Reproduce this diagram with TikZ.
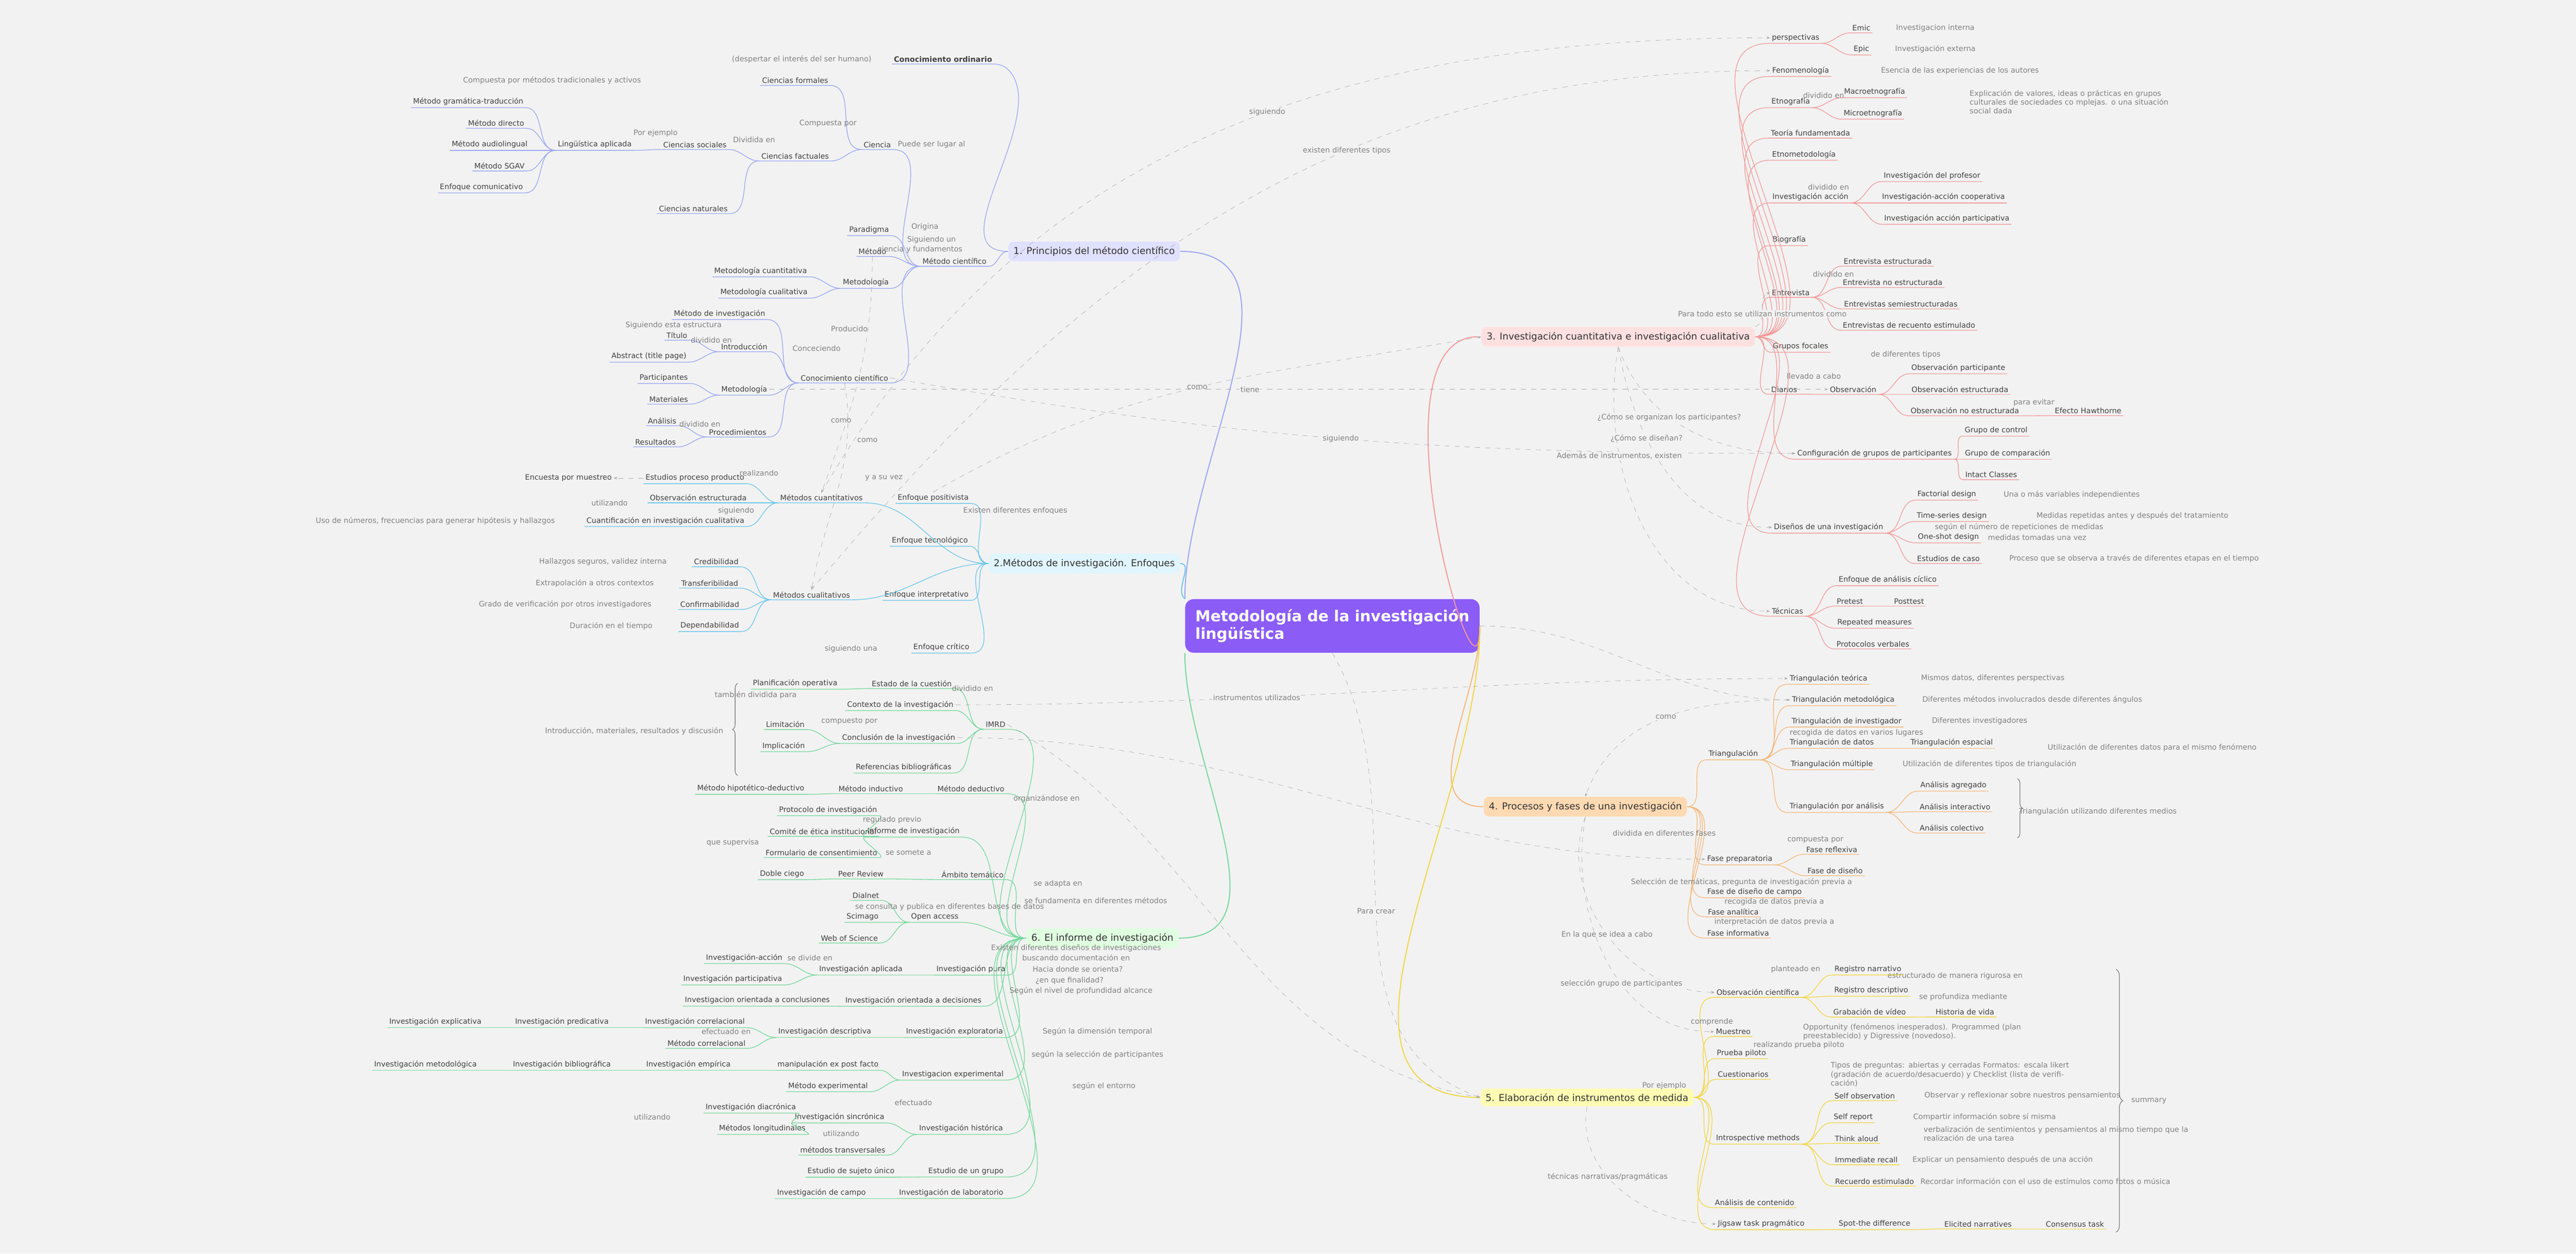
\documentclass[tikz,border=0pt]{standalone}
\usepackage{fontspec}
\setmainfont{DejaVu Sans}
\usetikzlibrary{positioning,arrows.meta,decorations.pathreplacing}

\definecolor{bgc}{HTML}{F2F2F2}
\definecolor{cblue}{HTML}{9AA6F2}
\definecolor{ccyan}{HTML}{6CC6EA}
\definecolor{cred}{HTML}{F29A9A}
\definecolor{corange}{HTML}{F5B77A}
\definecolor{cyellow}{HTML}{F2D640}
\definecolor{cgreen}{HTML}{74D89C}
\definecolor{cpurple}{HTML}{8B5CF6}

% children to the right / to the left, underlined
\newcommand{\kidsR}[3]{\foreach \k in {#3}{\draw[#1] (#2) to[out=0,in=180] (\k.south west) -- (\k.south east);}}
\newcommand{\kidsL}[3]{\foreach \k in {#3}{\draw[#1] (#2) to[out=180,in=0] (\k.south east) -- (\k.south west);}}

\begin{document}
\begin{tikzpicture}[
    x=0.0341cm, y=-0.0341cm,
    every node/.style={font=\fontsize{4.4}{5.2}\selectfont, inner sep=1pt},
    leaf/.style={text=black!75},
    note/.style={text=black!50, align=left},
    hub/.style={rounded corners=3pt, inner sep=3pt, font=\fontsize{5.6}{6.6}\selectfont, text=black!80},
    root/.style={rounded corners=5pt, fill=cpurple, text=white, font=\fontsize{9}{10.5}\selectfont\bfseries, align=left, minimum width=5.5cm, inner sep=6pt, minimum height=0.9cm},
    e1/.style={cblue, thin},
    e2/.style={ccyan, thin},
    e3/.style={cred, thin},
    e4/.style={corange, thin},
    e5/.style={cyellow, thin},
    e6/.style={cgreen, thin},
    xlink/.style={gray!70, dashed, very thin, -{Stealth[length=2pt]}},
    xlab/.style={text=black!50, fill=bgc, inner sep=0.5pt}
]
\fill[bgc] (0,0) rectangle (1568,763);

% ===================== ROOT AND HUBS =====================
\node[root] (c) at (811,381) {Metodología de la investigación\\lingüística\hspace*{2.1cm}};
\node[hub, fill=blue!12] (h1) at (666,153) {1. Principios del método científico};
\node[hub, fill=cyan!12] (h2) at (660,343) {2.Métodos de investigación. Enfoques};
\node[hub, fill=red!12] (h3) at (985,205) {3. Investigación cuantitativa e investigación cualitativa};
\node[hub, fill=orange!30] (h4) at (965,491) {4. Procesos y fases de una investigación};
\node[hub, fill=yellow!30] (h5) at (966,668) {5. Elaboración de instrumentos de medida};
\node[hub, fill=green!12] (h6) at (671,571) {6. El informe de investigación};

\draw[e1, semithick] (c.north west) to[out=90,in=0] (h1.east);
\draw[e2, semithick] (c.north west) to[out=140,in=0] (h2.east);
\draw[e6, semithick] (c.south west) to[out=-90,in=0] (h6.east);
\draw[e3, semithick] (c.east) to[out=-90,in=180] ([xshift=-2pt]h3.west);
\draw[e4, semithick] (c.east) to[out=-90,in=180] (h4.west);
\draw[e5, semithick] (c.east) to[out=-90,in=180] (h5.west);

% ===================== 1. PRINCIPIOS =====================
\node[leaf] (mc) at (581,159) {Método científico};
\node[leaf] (cord) at (574,36) {\textbf{Conocimiento ordinario}};
\node[note] (desp) at (488,36) {(despertar el interés del ser humano)};
\node[leaf] (par) at (529,140) {Paradigma};
\node[leaf] (met) at (531,153) {Método};
\node[leaf] (mtd) at (527,172) {Metodología};
\node[leaf] (cie) at (534,88) {Ciencia};
\node[leaf] (coci) at (514,230) {Conocimiento científico};
\node[leaf] (cfor) at (484,49) {Ciencias formales};
\node[leaf] (cfac) at (484,95) {Ciencias factuales};
\node[leaf] (csoc) at (423,88) {Ciencias sociales};
\node[leaf] (cnat) at (422,127) {Ciencias naturales};
\node[leaf] (lap) at (362,88) {Lingüística aplicada};
\node[leaf] (mgt) at (285,62) {Método gramática-traducción};
\node[leaf] (mdir) at (302,75) {Método directo};
\node[leaf] (maud) at (298,88) {Método audiolingual};
\node[leaf] (msg) at (304,101) {Método SGAV};
\node[leaf] (ecom) at (293,114) {Enfoque comunicativo};
\node[leaf] (mcua) at (463,165) {Metodología cuantitativa};
\node[leaf] (mcul) at (465,178) {Metodología cualitativa};
\node[leaf] (minv) at (438,191) {Método de investigación};
\node[leaf] (intr) at (453,211) {Introducción};
\node[leaf] (tit) at (412,204) {Título};
\node[leaf] (abs) at (395,217) {Abstract (title page)};
\node[leaf] (mtd2) at (453,237) {Metodología};
\node[leaf] (part) at (404,230) {Participantes};
\node[leaf] (mat) at (407,243) {Materiales};
\node[leaf] (proc) at (449,263) {Procedimientos};
\node[leaf] (anl) at (403,256) {Análisis};
\node[leaf] (res) at (399,269) {Resultados};

\kidsL{e1}{h1.west}{mc}
\draw[e1] (h1.west) to[out=180,in=-90] (620,60) to[out=90,in=0] (cord.south east) -- (cord.south west);
\kidsL{e1}{mc.south west}{par,met,mtd,cie,coci}
\kidsL{e1}{cie.south west}{cfor,cfac}
\kidsL{e1}{cfac.south west}{csoc,cnat}
\kidsL{e1}{csoc.south west}{lap}
\kidsL{e1}{lap.south west}{mgt,mdir,maud,msg,ecom}
\kidsL{e1}{mtd.south west}{mcua,mcul}
\kidsL{e1}{coci.south west}{minv,intr,mtd2,proc}
\kidsL{e1}{intr.south west}{tit,abs}
\kidsL{e1}{mtd2.south west}{part,mat}
\kidsL{e1}{proc.south west}{anl,res}

\node[note] at (336,49) {Compuesta por métodos tradicionales y activos};
\node[note] at (399,81) {Por ejemplo};
\node[note] at (459,85) {Dividida en};
\node[note] at (504,75) {Compuesta por};
\node[note] at (567,88) {Puede ser lugar al};
\node[note] at (563,138) {Origina};
\node[note] at (567,146) {Siguiendo un};
\node[note] at (560,152) {ciencia y fundamentos};
\node[note] at (517,200) {Producido};
\node[note] at (497,212) {Conceciendo};
\node[note] at (410,198) {Siguiendo esta estructura};
\node[note] at (433,207) {dividido en};
\node[note] at (426,258) {dividido en};
\node[note] at (512,256) {como};
\node[note] at (528,268) {como};

% ===================== 2. METODOS =====================
\node[leaf] (mcuant) at (500,303) {Métodos cuantitativos};
\node[leaf] (epp) at (423,291) {Estudios proceso producto};
\node[leaf] (oes) at (425,303) {Observación estructurada};
\node[leaf] (cic) at (405,317) {Cuantificación en investigación cualitativa};
\node[leaf] (enc) at (346,291) {Encuesta por muestreo};
\node[note] at (265,317) {Uso de números, frecuencias para generar hipótesis y hallazgos};
\node[leaf] (epos) at (568,303) {Enfoque positivista};
\node[leaf] (etec) at (566,329) {Enfoque tecnológico};
\node[leaf] (mcual) at (494,362) {Métodos cualitativos};
\node[leaf] (cred) at (436,342) {Credibilidad};
\node[leaf] (tran) at (432,355) {Transferibilidad};
\node[leaf] (conf) at (432,368) {Confirmabilidad};
\node[leaf] (depe) at (432,381) {Dependabilidad};
\node[note] at (367,342) {Hallazgos seguros, validez interna};
\node[note] at (362,355) {Extrapolación a otros contextos};
\node[note] at (344,368) {Grado de verificación por otros investigadores};
\node[note] at (372,381) {Duración en el tiempo};
\node[leaf] (eint) at (564,362) {Enfoque interpretativo};
\node[leaf] (ecri) at (573,394) {Enfoque crítico};

\kidsL{e2}{h2.west}{epos,etec,eint,ecri}
\draw[e2] (h2.west) to[out=180,in=0] (mcuant.south east) -- (mcuant.south west);
\draw[e2] (h2.west) to[out=180,in=0] (mcual.south east) -- (mcual.south west);
\kidsL{e2}{mcuant.south west}{epp,oes,cic}
\kidsL{e2}{mcual.south west}{cred,tran,conf,depe}
\draw[xlink] (epp.west) -- (enc.east);
\node[note] at (371,306) {utilizando};
\node[note] at (462,288) {realizando};
\node[note] at (448,311) {siguiendo};
\node[note] at (538,291) {y a su vez};
\node[note] at (618,311) {Existen diferentes enfoques};

% ===================== 6. INFORME =====================
\node[leaf] (imrd) at (606,441) {IMRD};
\node[leaf] (estc) at (555,416) {Estado de la cuestión};
\node[leaf] (plan) at (484,416) {Planificación operativa};
\node[leaf] (ctx) at (548,429) {Contexto de la investigación};
\node[leaf] (conc) at (547,449) {Conclusión de la investigación};
\node[leaf] (lim) at (478,441) {Limitación};
\node[leaf] (imp) at (477,454) {Implicación};
\node[leaf] (refb) at (550,467) {Referencias bibliográficas};
\node[note] (imrdn) at (386,445) {Introducción, materiales, resultados y discusión};
\draw[black!50, decorate, decoration={brace, amplitude=3pt}] (449,472) -- (449,416);
\node[leaf] (mhd) at (457,480) {Método hipotético-deductivo};
\node[leaf] (mind) at (530,480) {Método inductivo};
\node[leaf] (mded) at (591,480) {Método deductivo};
\node[leaf] (infi) at (556,506) {Informe de investigación};
\node[leaf] (prot) at (504,493) {Protocolo de investigación};
\node[leaf] (comi) at (501,506) {Comité de ética institucional};
\node[leaf] (form) at (500,519) {Formulario de consentimiento};
\node[note] at (446,513) {que supervisa};
\node[leaf] (amb) at (592,532) {Ámbito temático};
\node[leaf] (peer) at (524,532) {Peer Review};
\node[leaf] (dobl) at (476,532) {Doble ciego};
\node[leaf] (dial) at (527,545) {Dialnet};
\node[leaf] (oacc) at (569,558) {Open access};
\node[leaf] (scim) at (525,558) {Scimago};
\node[leaf] (wos) at (517,571) {Web of Science};
\node[leaf] (iapl) at (524,590) {Investigación aplicada};
\node[leaf] (iacc) at (453,583) {Investigación-acción};
\node[leaf] (ipar) at (446,596) {Investigación participativa};
\node[leaf] (ipur) at (591,590) {Investigación pura};
\node[leaf] (icon) at (461,609) {Investigacion orientada a conclusiones};
\node[leaf] (idec) at (556,609) {Investigación orientada a decisiones};
\node[leaf] (iexp) at (581,628) {Investigación exploratoria};
\node[leaf] (ides) at (502,628) {Investigación descriptiva};
\node[leaf] (icor) at (423,622) {Investigación correlacional};
\node[leaf] (mcor) at (430,635) {Método correlacional};
\node[leaf] (ipre) at (342,622) {Investigación predicativa};
\node[leaf] (iexl) at (265,622) {Investigación explicativa};
\node[leaf] (iexm) at (580,654) {Investigacion experimental};
\node[leaf] (mexp) at (504,648) {manipulación ex post facto};
\node[leaf] (mexe) at (504,661) {Método experimental};
\node[leaf] (iemp) at (419,648) {Investigación empírica};
\node[leaf] (ibib) at (342,648) {Investigación bibliográfica};
\node[leaf] (imet) at (259,648) {Investigación metodológica};
\node[leaf] (ihis) at (585,687) {Investigación histórica};
\node[leaf] (isin) at (511,680) {Investigación sincrónica};
\node[leaf] (idia) at (457,674) {Investigación diacrónica};
\node[leaf] (mlon) at (464,687) {Métodos longitudinales};
\node[leaf] (mtra) at (513,700) {métodos transversales};
\node[leaf] (egru) at (588,713) {Estudio de un grupo};
\node[leaf] (esuj) at (518,713) {Estudio de sujeto único};
\node[leaf] (icam) at (500,726) {Investigación de campo};
\node[leaf] (ilab) at (579,726) {Investigación de laboratorio};

\kidsL{e6}{h6.west}{imrd,mded,infi,amb,oacc,ipur,idec,iexp,iexm,ihis,egru,ilab}
\kidsL{e6}{imrd.south west}{estc,ctx,conc,refb}
\kidsL{e6}{estc.south west}{plan}
\kidsL{e6}{conc.south west}{lim,imp}
\kidsL{e6}{mded.south west}{mind}
\kidsL{e6}{mind.south west}{mhd}
\kidsL{e6}{infi.south west}{prot,comi,form}
\kidsL{e6}{amb.south west}{peer}
\kidsL{e6}{peer.south west}{dobl}
\kidsL{e6}{oacc.south west}{dial,scim,wos}
\kidsL{e6}{ipur.south west}{iapl}
\kidsL{e6}{iapl.south west}{iacc,ipar}
\kidsL{e6}{idec.south west}{icon}
\kidsL{e6}{iexp.south west}{ides}
\kidsL{e6}{ides.south west}{icor,mcor}
\kidsL{e6}{icor.south west}{ipre}
\kidsL{e6}{ipre.south west}{iexl}
\kidsL{e6}{iexm.south west}{mexp,mexe}
\kidsL{e6}{mexp.south west}{iemp}
\kidsL{e6}{iemp.south west}{ibib}
\kidsL{e6}{ibib.south west}{imet}
\kidsL{e6}{ihis.south west}{isin,mtra}
\kidsL{e6}{isin.south west}{idia,mlon}
\kidsL{e6}{egru.south west}{esuj}
\kidsL{e6}{ilab.south west}{icam}

\node[note] at (518,395) {siguiendo una};
\node[note] at (460,423) {también dividida para};
\node[note] at (592,419) {dividido en};
\node[note] at (517,439) {compuesto por};
\node[note] at (637,486) {organizándose en};
\node[note] at (543,499) {regulado previo};
\node[note] at (553,519) {se somete a};
\node[note] at (644,538) {se adapta en};
\node[note] at (667,548) {se fundamenta en diferentes métodos};
\node[note] at (578,552) {se consulta y publica en diferentes bases de datos};
\node[note] at (655,577) {Existen diferentes diseños de investigaciones};
\node[note] at (493,583) {se divide en};
\node[note] at (655,583) {buscando documentación en};
\node[note] at (656,590) {Hacia donde se orienta?};
\node[note] at (651,597) {¿en que finalidad?};
\node[note] at (658,603) {Según el nivel de profundidad alcance};
\node[note] at (668,628) {Según la dimensión temporal};
\node[note] at (442,628) {efectuado en};
\node[note] at (668,642) {según la selección de participantes};
\node[note] at (672,661) {según el entorno};
\node[note] at (556,671) {efectuado};
\node[note] at (512,690) {utilizando};
\node[note] at (397,680) {utilizando};

% ===================== 3. CUANTITATIVA / CUALITATIVA =====================
\node[leaf] (persp) at (1093,23) {perspectivas};
\node[leaf] (emic) at (1133,17) {Emic};
\node[leaf] (epic) at (1133,30) {Epic};
\node[note] at (1178,17) {Investigacion interna};
\node[note] at (1178,30) {Investigación externa};
\node[leaf] (fenom) at (1096,43) {Fenomenología};
\node[note] at (1193,43) {Esencia de las experiencias de los autores};
\node[leaf] (etno) at (1090,62) {Etnografía};
\node[leaf] (macro) at (1141,56) {Macroetnografía};
\node[leaf] (micro) at (1140,69) {Microetnografía};
\node[note, text width=4.3cm] at (1262,62) {Explicación de valores, ideas o prácticas en grupos culturales de sociedades co mplejas. o una situación social dada};
\node[leaf] (tfun) at (1102,81) {Teoría fundamentada};
\node[leaf] (etme) at (1098,94) {Etnometodología};
\node[leaf] (iacc3) at (1102,120) {Investigación acción};
\node[leaf] (iprof) at (1176,107) {Investigación del profesor};
\node[leaf] (icoop) at (1183,120) {Investigación-acción cooperativa};
\node[leaf] (ipart3) at (1185,133) {Investigación acción participativa};
\node[leaf] (biog) at (1089,146) {Biografía};
\node[leaf] (entr) at (1090,178) {Entrevista};
\node[leaf] (ees) at (1149,159) {Entrevista estructurada};
\node[leaf] (ene) at (1152,172) {Entrevista no estructurada};
\node[leaf] (ese) at (1157,185) {Entrevistas semiestructuradas};
\node[leaf] (ere) at (1162,198) {Entrevistas de recuento estimulado};
\node[leaf] (gfoc) at (1096,211) {Grupos focales};
\node[leaf] (diar) at (1086,237) {Diarios};
\node[leaf] (obs) at (1128,237) {Observación};
\node[leaf] (opar) at (1192,224) {Observación participante};
\node[leaf] (oest) at (1193,237) {Observación estructurada};
\node[leaf] (onoe) at (1196,250) {Observación no estructurada};
\node[leaf] (haw) at (1271,250) {Efecto Hawthorne};
\node[leaf] (confg) at (1141,276) {Configuración de grupos de participantes};
\node[leaf] (gcon) at (1215,262) {Grupo de control};
\node[leaf] (gcom) at (1222,276) {Grupo de comparación};
\node[leaf] (intc) at (1212,289) {Intact Classes};
\node[leaf] (disen) at (1113,321) {Diseños de una investigación};
\node[leaf] (fact) at (1185,301) {Factorial design};
\node[leaf] (tser) at (1188,314) {Time-series design};
\node[leaf] (oneshot) at (1186,327) {One-shot design};
\node[leaf] (ecas) at (1186,340) {Estudios de caso};
\node[note] at (1261,301) {Una o más variables independientes};
\node[note] at (1298,314) {Medidas repetidas antes y después del tratamiento};
\node[note] at (1240,327) {medidas tomadas una vez};
\node[note] at (1229,321) {según el número de repeticiones de medidas};
\node[note] at (1299,340) {Proceso que se observa a través de diferentes etapas en el tiempo};
\node[leaf] (tecn) at (1088,372) {Técnicas};
\node[leaf] (ecic) at (1149,353) {Enfoque de análisis cíclico};
\node[leaf] (pret) at (1126,366) {Pretest};
\node[leaf] (post) at (1162,366) {Posttest};
\node[leaf] (rmea) at (1141,379) {Repeated measures};
\node[leaf] (pver) at (1140,392) {Protocolos verbales};

\kidsR{e3}{h3.east}{persp,fenom,etno,tfun,etme,iacc3,biog,entr,gfoc,diar,confg,disen,tecn}
\kidsR{e3}{persp.south east}{emic,epic}
\kidsR{e3}{etno.south east}{macro,micro}
\kidsR{e3}{iacc3.south east}{iprof,icoop,ipart3}
\kidsR{e3}{entr.south east}{ees,ene,ese,ere}
\kidsR{e3}{diar.south east}{obs}
\kidsR{e3}{obs.south east}{opar,oest,onoe}
\kidsR{e3}{onoe.south east}{haw}
\kidsR{e3}{confg.south east}{gcon,gcom,intc}
\kidsR{e3}{disen.south east}{fact,tser,oneshot,ecas}
\kidsR{e3}{tecn.south east}{ecic,pret,rmea,pver}
\kidsR{e3}{pret.south east}{post}
\node[note] at (1110,58) {dividido en};
\node[note] at (1113,114) {dividido en};
\node[note] at (1116,167) {dividido en};
\node[note] at (1104,229) {llevado a cabo};
\node[note] at (1160,216) {de diferentes tipos};
\node[note] at (1238,245) {para evitar};

% ===================== 4. PROCESOS =====================
\node[leaf] (tri) at (1055,459) {Triangulación};
\node[leaf] (trit) at (1113,413) {Triangulación teórica};
\node[leaf] (trim) at (1122,426) {Triangulación metodológica};
\node[leaf] (trii) at (1124,439) {Triangulación de investigador};
\node[leaf] (trid) at (1115,452) {Triangulación de datos};
\node[leaf] (tries) at (1188,452) {Triangulación espacial};
\node[leaf] (trimu) at (1115,465) {Triangulación múltiple};
\node[leaf] (tria) at (1118,491) {Triangulación por análisis};
\node[note] at (1213,413) {Mismos datos, diferentes perspectivas};
\node[note] at (1237,426) {Diferentes métodos involucrados desde diferentes ángulos};
\node[note] at (1205,439) {Diferentes investigadores};
\node[note] at (1130,446) {recogida de datos en varios lugares};
\node[note] at (1310,455) {Utilización de diferentes datos para el mismo fenómeno};
\node[note] at (1211,465) {Utilización de diferentes tipos de triangulación};
\node[leaf] (aagr) at (1189,478) {Análisis agregado};
\node[leaf] (aint) at (1190,491) {Análisis interactivo};
\node[leaf] (acol) at (1188,504) {Análisis colectivo};
\draw[black!50, decorate, decoration={brace, amplitude=3pt}] (1228,474) -- (1228,510);
\node[note] at (1277,494) {Triangulación utilizando diferentes medios};
\node[leaf] (fprep) at (1059,523) {Fase preparatoria};
\node[leaf] (frefl) at (1115,517) {Fase reflexiva};
\node[leaf] (fdis) at (1117,530) {Fase de diseño};
\node[leaf] (fcam) at (1068,543) {Fase de diseño de campo};
\node[leaf] (fana) at (1055,555) {Fase analítica};
\node[leaf] (finf) at (1058,568) {Fase informativa};

\kidsR{e4}{h4.east}{tri,fprep,fcam,fana,finf}
\kidsR{e4}{tri.south east}{trit,trim,trii,trid,trimu,tria}
\kidsR{e4}{trid.south east}{tries}
\kidsR{e4}{tria.south east}{aagr,aint,acol}
\kidsR{e4}{fprep.south east}{frefl,fdis}
\node[note] at (1013,507) {dividida en diferentes fases};
\node[note] at (1105,511) {compuesta por};
\node[note] at (1060,537) {Selección de temáticas, pregunta de investigación previa a};
\node[note] at (1080,549) {recogida de datos previa a};
\node[note] at (1080,561) {interpretación de datos previa a};

% ===================== 5. INSTRUMENTOS =====================
\node[leaf] (obsc) at (1070,604) {Observación científica};
\node[leaf] (rnar) at (1137,590) {Registro narrativo};
\node[leaf] (rdes) at (1139,603) {Registro descriptivo};
\node[leaf] (gvid) at (1138,616) {Grabación de vídeo};
\node[leaf] (hvid) at (1196,616) {Historia de vida};
\node[note] at (1190,594) {estructurado de manera rigurosa en};
\node[note] at (1195,607) {se profundiza mediante};
\node[leaf] (mues) at (1055,628) {Muestreo};
\node[note, text width=4.6cm] at (1165,628) {Opportunity (fenómenos inesperados). Programmed (plan preestablecido) y Digressive (novedoso).};
\node[leaf] (ppil) at (1060,641) {Prueba piloto};
\node[leaf] (cues) at (1061,654) {Cuestionarios};
\node[note, text width=5.3cm] at (1192,654) {Tipos de preguntas: abiertas y cerradas Formatos: escala likert (gradación de acuerdo/desacuerdo) y Checklist (lista de verificación)};
\node[leaf] (intro) at (1070,693) {Introspective methods};
\node[leaf] (sobs) at (1135,667) {Self observation};
\node[leaf] (srep) at (1128,680) {Self report};
\node[leaf] (thin) at (1130,693) {Think aloud};
\node[leaf] (irec) at (1136,706) {Immediate recall};
\node[leaf] (rest) at (1141,719) {Recuerdo estimulado};
\node[note] at (1231,667) {Observar y reflexionar sobre nuestros pensamientos};
\node[note] at (1208,680) {Compartir información sobre sí misma};
\node[note, text width=5.8cm] at (1256,690) {verbalización de sentimientos y pensamientos al mismo tiempo que la realización de una tarea};
\node[note] at (1219,706) {Explicar un pensamiento después de una acción};
\node[note] at (1245,719) {Recordar información con el uso de estímulos como fotos o música};
\node[leaf] (acon) at (1068,732) {Análisis de contenido};
\node[leaf] (jig) at (1072,745) {Jigsaw task pragmático};
\node[leaf] (spot) at (1141,745) {Spot-the difference};
\node[leaf] (elic) at (1204,745) {Elicited narratives};
\node[leaf] (cons) at (1263,745) {Consensus task};
\draw[black!50, decorate, decoration={brace, amplitude=4pt}] (1288,590) -- (1288,750);
\node[note] at (1308,670) {summary};

\kidsR{e5}{h5.east}{obsc,mues,ppil,cues,intro,acon,jig}
\kidsR{e5}{obsc.south east}{rnar,rdes,gvid}
\kidsR{e5}{gvid.south east}{hvid}
\kidsR{e5}{intro.south east}{sobs,srep,thin,irec,rest}
\kidsR{e5}{jig.south east}{spot}
\kidsR{e5}{spot.south east}{elic}
\kidsR{e5}{elic.south east}{cons}
\node[note] at (1093,590) {planteado en};
\node[note] at (1042,622) {comprende};
\node[note] at (1095,636) {realizando prueba piloto};
\node[note] at (1013,661) {Por ejemplo};

% ===================== CROSS LINKS =====================
\draw[xlink] (mcuant.north) to[out=60,in=180] node[xlab, pos=0.55] {siguiendo} (persp.west);
\draw[xlink] (mcual.north) to[out=50,in=180] node[xlab, pos=0.62] {existen diferentes tipos} (fenom.west);
\draw[xlink] (epos.north) to[out=30,in=190] node[xlab, pos=0.5] {como} (h3.west);
\draw[xlink] (mtd2.east) to[out=0,in=180] node[xlab, pos=0.45] {tiene} (obs.west);
\draw[xlink] (coci.east) to[out=-10,in=180] node[xlab, pos=0.5] {siguiendo} (confg.west);
\draw[xlink] (h3.north east) to[out=20,in=200] node[xlab, pos=0.4] {Para todo esto se utilizan instrumentos como} (entr.west);
\draw[xlink] (h3.south) to[out=-70,in=180] node[xlab, pos=0.4] {¿Cómo se organizan los participantes?} (confg.west);
\draw[xlink] (h3.south) to[out=-80,in=180] node[xlab, pos=0.35] {¿Cómo se diseñan?} (disen.west);
\draw[xlink] (h3.south) to[out=-100,in=180] node[xlab, pos=0.3] {Además de instrumentos, existen} (tecn.west);
\draw[xlink] (trim.west) to[out=180,in=70] node[xlab, pos=0.5] {como} (h4.north);
\draw[xlink] (c.south) to[out=-60,in=160] node[xlab, pos=0.5] {Para crear} (h5.west);
\draw[xlink] (ctx.east) to[out=0,in=180] node[xlab, pos=0.35] {instrumentos utilizados} (trit.west);
\draw[xlink] (c.east) to[out=0,in=180] (trim.west);
\draw[xlink] (h4.south) to[out=-110,in=180] node[xlab, pos=0.5] {En la que se idea a cabo} (obsc.west);
\draw[xlink] (h4.south) to[out=-100,in=180] node[xlab, pos=0.6] {selección grupo de participantes} (mues.west);
\draw[xlink] (h5.south) to[out=-100,in=180] node[xlab, pos=0.4] {técnicas narrativas/pragmáticas} (jig.west);
\draw[xlink] (conc.east) to[out=0,in=180] (fprep.west);
\draw[xlink] (imrd.east) to[out=-30,in=170] (h5.west);
\draw[xlink] (coci.south) to[out=-80,in=80] (mcual.north);
\draw[xlink] (met.south) to[out=-90,in=70] (mcuant.north);
\end{tikzpicture}
\end{document}
